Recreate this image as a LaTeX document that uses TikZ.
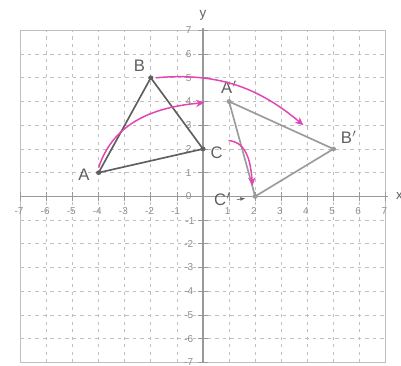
\documentclass[tikz,border=0pt]{standalone}
\usepackage{fontspec}
\setmainfont{Liberation Sans}
\usepackage{tikz}
\usetikzlibrary{arrows.meta}

\definecolor{rotpink}{RGB}{226,70,180}
\definecolor{oldtri}{RGB}{95,95,95}
\definecolor{newtri}{RGB}{155,155,155}

\begin{document}
\begin{tikzpicture}[x=0.55cm,y=0.5cm,
		gridline/.style={gray!50,thin,dash pattern=on 2pt off 2.5pt},
		numlab/.style={gray!90,font=\fontsize{6}{7}\selectfont,inner sep=0pt},
		ptlab/.style={oldtri,font=\normalsize},
		rotarrow/.style={rotpink,line width=0.9pt,-{Stealth[length=5pt,width=4.5pt]}}]
		\useasboundingbox (-7.78,-7.14) rectangle (7.59,8.28);
		% grid, frame and axes
		\foreach \i in {-6,...,6} {
			\draw[gridline] (\i,-7) -- (\i,7);
			\draw[gridline] (-7,\i) -- (7,\i);
		}
		\draw[gray!50] (-7,-7) rectangle (7,7);
		\draw[gray!80,thick] (-7,0) -- (7.1,0) node[right=1pt,oldtri,font=\footnotesize] {x};
		\draw[gray!80,thick] (0,-7) -- (0,7.1) node[above=1pt,oldtri,font=\footnotesize] {y};
		\foreach \i in {-7,...,-1,1,2,...,7} {
			\draw[gray!80] (\i,-0.2) -- (\i,0.2);
			\draw[gray!80] (-0.18,\i) -- (0.18,\i);
			\node[numlab] at (\i-0.05,-0.62) {\i};
		}
		\foreach \i in {-7,...,-2,1,2,...,7}
			\node[numlab] at (-0.55,\i) {\i};
		\node[numlab] at (-0.5,-1.05) {-1};
		\node[numlab] at (-0.55,0) {0};
		
		% original triangle ABC
		\coordinate (A) at (-4,1);
		\coordinate (B) at (-2,5);
		\coordinate (C) at (0,2);
		\draw[oldtri,line width=1pt,line join=round] (A) -- (B) -- (C) -- cycle;
		\foreach \p in {A,B,C} \fill[oldtri] (\p) circle (0.1);
		\node[ptlab,left=2pt] (Alab) at ([yshift=-1pt]A) {A};
		\node[ptlab,above left=0pt] (Blab) at (B) {B};
		\node[ptlab,right=1pt] (Clab) at ([yshift=-2pt]C) {C};
		
		% image triangle A'B'C' (90 degrees clockwise about O)
		\coordinate (A1) at (1,4);
		\coordinate (B1) at (5,2);
		\coordinate (C1) at (2,0);
		\draw[newtri,line width=1pt,line join=round] (A1) -- (B1) -- (C1) -- cycle;
		\foreach \p in {A1,B1,C1} \fill[newtri] (\p) circle (0.1);
		\node[ptlab,above=1pt] (A1lab) at (A1) {A$'$};
		\node[ptlab,above right=0pt] (B1lab) at ([xshift=1pt]B1) {B$'$};
		\node[ptlab,left=11pt] (C1lab) at ([yshift=-2pt]C1) {C$'$};
		\draw[oldtri,-{Latex[length=3pt]},shorten >=6pt] (C1lab.east) -- (C1);
		
		% turning arrows
		\coordinate (Aend) at (0.05,3.95);
		\coordinate (Bend) at (3.85,3.0);
		\coordinate (Cend) at (1.9,0.45);
		\draw[rotarrow] ([yshift=3pt]A) to[out=72,in=185] (Aend);
		\draw[rotarrow] ([xshift=3pt]B) to[out=5,in=140] (Bend);
		\draw[rotarrow] (Clab.north east) to[out=-5,in=95] (Cend);
	\end{tikzpicture}
\end{document}
